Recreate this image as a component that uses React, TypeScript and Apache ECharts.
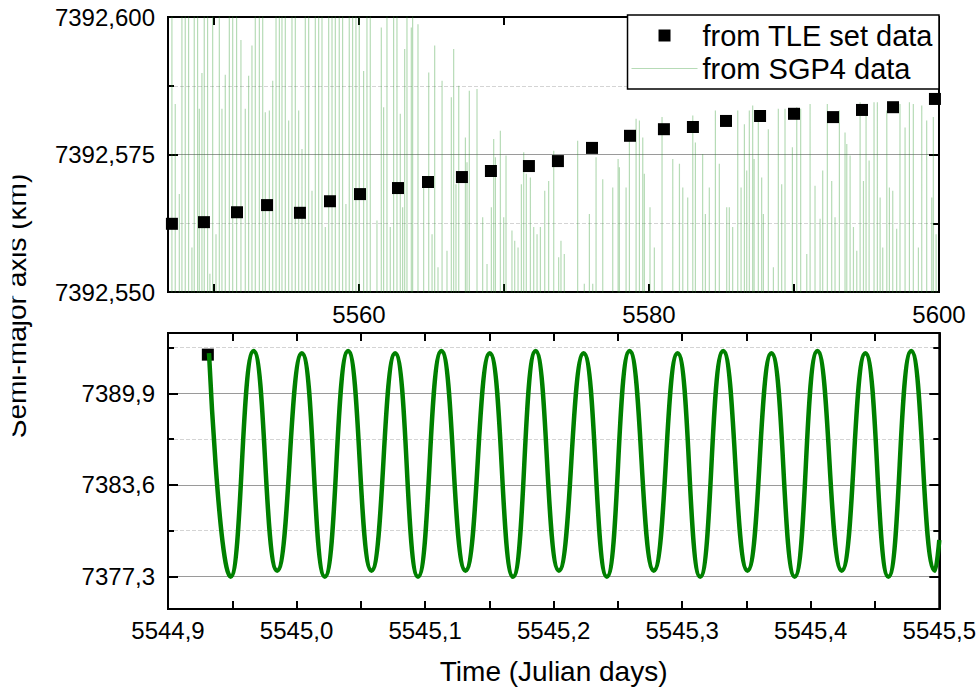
import React, { useEffect, useRef } from "react";
import * as echarts from "echarts";

// ---------- Upper panel: TLE set points (Julian day, km) ----------
const tleDays = [
  5547.1, 5549.31, 5551.59, 5553.66, 5555.93, 5558.0, 5560.07, 5562.69, 5564.76, 5567.1,
  5569.1, 5571.72, 5573.72, 5576.07, 5578.69, 5581.03, 5583.03, 5585.31, 5587.66, 5590.0,
  5592.69, 5594.69, 5596.83, 5599.72,
];
const tleKm = [
  7392.5624, 7392.5627, 7392.5645, 7392.5658, 7392.5644, 7392.5665, 7392.5678, 7392.5689,
  7392.57, 7392.5709, 7392.572, 7392.5729, 7392.5738, 7392.5762, 7392.5784, 7392.5796,
  7392.58, 7392.5811, 7392.582, 7392.5824, 7392.5818, 7392.5831, 7392.5836, 7392.5851,
];

// ---------- Upper panel: SGP4 oscillation maxima (Julian day, km) ----------
const sgpDays = [
  5547.1, 5547.33, 5547.61, 5547.79, 5548.02, 5548.25, 5548.48, 5548.64, 5548.87, 5548.99,
  5549.17, 5549.33, 5549.56, 5549.72, 5549.91, 5550.14, 5550.37, 5550.55, 5550.78, 5551.06,
  5551.29, 5551.56, 5551.86, 5552.16, 5552.39, 5552.62, 5552.85, 5553.13, 5553.36, 5553.54,
  5553.82, 5554.05, 5554.28, 5554.51, 5554.69, 5554.92, 5555.15, 5555.38, 5555.61, 5555.84,
  5556.07, 5556.3, 5556.53, 5556.76, 5556.99, 5557.22, 5557.45, 5557.68, 5557.91, 5558.14,
  5558.37, 5558.64, 5558.87, 5559.1, 5559.33, 5559.56, 5559.79, 5560.02,
  5560.32, 5560.55, 5560.78, 5561.24, 5561.54, 5561.7, 5561.93, 5562.16, 5562.39, 5562.62,
  5562.85, 5563.01, 5563.15, 5563.31, 5563.61, 5563.7, 5564.07, 5564.46, 5564.81, 5565.04,
  5565.22, 5565.45, 5565.73, 5566.07, 5566.37, 5566.53, 5566.69, 5566.88, 5567.34, 5567.45,
  5567.61, 5568.14, 5568.53, 5568.83, 5569.13, 5569.29, 5569.41, 5569.75, 5569.98, 5570.14,
  5570.55, 5570.74, 5570.97, 5571.2, 5571.36, 5571.54, 5571.82, 5572.05, 5572.28, 5572.51,
  5572.81, 5573.08, 5573.43,
  5573.77, 5573.93, 5574.16, 5575.08, 5575.54, 5575.89, 5576.12, 5576.35, 5576.81, 5577.5,
  5577.87, 5577.96, 5578.42, 5578.65, 5579.11, 5579.34, 5579.57, 5579.68, 5580.07, 5580.37,
  5580.9, 5581.64, 5582.1, 5582.33, 5582.67, 5583.02, 5583.2, 5583.7, 5583.89, 5584.16,
  5584.58, 5584.85, 5585.36, 5585.54, 5585.77, 5586.12, 5586.35, 5586.58, 5586.74, 5586.92,
  5587.15,
  5587.25, 5587.54, 5587.77, 5587.89, 5588.23, 5588.58, 5588.92, 5589.15, 5589.38, 5589.89,
  5590.19, 5590.46, 5590.88, 5591.11, 5591.45, 5591.8, 5591.98, 5592.3, 5592.6, 5592.83,
  5593.13, 5593.52, 5593.64, 5593.87, 5594.1, 5594.33, 5594.56, 5594.79, 5594.97, 5595.18,
  5595.52, 5595.75, 5595.94, 5596.12, 5596.4, 5596.58, 5596.81, 5597.08, 5597.31, 5597.66,
  5597.96, 5598.23, 5598.58, 5598.81, 5599.15, 5599.5, 5599.61, 5599.8,
];
const sgpPeakKm = [
  7392.62, 7392.5842, 7392.5678, 7392.62, 7392.62, 7392.62, 7392.5581, 7392.62, 7392.62, 7392.5833,
  7392.5898, 7392.62, 7392.62, 7392.5533, 7392.62, 7392.5605, 7392.62, 7392.5833, 7392.5895, 7392.62,
  7392.62, 7392.62, 7392.5958, 7392.5833, 7392.5893, 7392.5948, 7392.62, 7392.62, 7392.62, 7392.5827,
  7392.583, 7392.5884, 7392.62, 7392.62, 7392.62, 7392.62, 7392.5812, 7392.62, 7392.62, 7392.583,
  7392.576, 7392.62, 7392.62, 7392.5684, 7392.62, 7392.62, 7392.62, 7392.5618, 7392.62, 7392.62,
  7392.62, 7392.62, 7392.62, 7392.566, 7392.62, 7392.62, 7392.62, 7392.62,
  7392.5902, 7392.62, 7392.62, 7392.563, 7392.5981, 7392.5836, 7392.62, 7392.5618, 7392.62, 7392.62,
  7392.5824, 7392.5654, 7392.5942, 7392.62, 7392.5981, 7392.62, 7392.5987, 7392.569, 7392.5899, 7392.5605,
  7392.5948, 7392.5545, 7392.5884, 7392.5575, 7392.5854, 7392.5942, 7392.5696, 7392.5875, 7392.5781, 7392.5736,
  7392.5866, 7392.5869, 7392.5636, 7392.5551, 7392.5654, 7392.5778, 7392.5745, 7392.5793, 7392.5636, 7392.5748,
  7392.5612, 7392.5593, 7392.5581, 7392.5696, 7392.5754, 7392.5715, 7392.5708, 7392.5618, 7392.5605, 7392.5618,
  7392.5684, 7392.5702, 7392.5757,
  7392.5563, 7392.5593, 7392.5569, 7392.5775, 7392.5515, 7392.5642, 7392.5515, 7392.5745, 7392.5705, 7392.569,
  7392.5742, 7392.5727, 7392.569, 7392.579, 7392.5815, 7392.5812, 7392.5781, 7392.5715, 7392.5654, 7392.5581,
  7392.5818, 7392.5742, 7392.5733, 7392.569, 7392.5672, 7392.5821, 7392.5772, 7392.5751, 7392.5642, 7392.569,
  7392.583, 7392.5733, 7392.5654, 7392.5654, 7392.5618, 7392.583, 7392.569, 7392.5805, 7392.5721, 7392.583,
  7392.5839,
  7392.5742, 7392.5818, 7392.5708, 7392.5642, 7392.5796, 7392.5545, 7392.5833, 7392.5696, 7392.5833, 7392.5763,
  7392.5836, 7392.5833, 7392.5569, 7392.5842, 7392.5693, 7392.5633, 7392.5721, 7392.5842, 7392.5702, 7392.5636,
  7392.583, 7392.579, 7392.5769, 7392.5748, 7392.5618, 7392.5575, 7392.5845, 7392.5702, 7392.5824, 7392.5739,
  7392.5845, 7392.5845, 7392.5672, 7392.5581, 7392.583, 7392.569, 7392.5684, 7392.5615, 7392.5842, 7392.5799,
  7392.5845, 7392.5842, 7392.5581, 7392.5839, 7392.5812, 7392.5672, 7392.5818, 7392.5605,
];
// oscillation minimum (seen in the lower panel)
const SGP4_TROUGH_KM = 7377.3;

// ---------- Lower panel: zoom on first half day ----------
const zoomTleDays = [5544.931];
const zoomTleKm = [7392.56];
const zoomDays = [
  5544.9319, 5544.9487, 5544.9666, 5544.9849, 5545.0041, 5545.022, 5545.0401, 5545.0583,
  5545.0767, 5545.0945, 5545.1127, 5545.1314, 5545.1503, 5545.1684, 5545.186, 5545.2041,
  5545.2233, 5545.2414, 5545.2591, 5545.2779, 5545.2964, 5545.314, 5545.3319, 5545.3508,
  5545.3694, 5545.3875, 5545.4052, 5545.4241, 5545.4425, 5545.4604, 5545.4782, 5545.4966, 5545.5,
];
const zoomKm = [
  7392.67, 7377.27, 7392.81, 7377.69, 7392.65, 7377.27, 7392.81, 7377.69,
  7392.65, 7377.27, 7392.81, 7377.69, 7392.65, 7377.27, 7392.81, 7377.69,
  7392.65, 7377.27, 7392.81, 7377.69, 7392.65, 7377.27, 7392.81, 7377.69,
  7392.65, 7377.27, 7392.81, 7377.69, 7392.65, 7377.27, 7392.81, 7377.69, 7379.8,
];

// ---------- Axis ticks ----------
const topXTickDays = [5550, 5560, 5570, 5580, 5590, 5600];
const topXLabelDays = [5560, 5580, 5600];
const bottomYMajor = [7377.3, 7383.6, 7389.9];
const bottomYMinor = [7380.45, 7386.75, 7393.05];

const FONT = "'Liberation Sans', Arial, Helvetica, sans-serif";
const SGP_COLOR = "rgba(40,150,40,0.34)";

export default function App() {
  const ref = useRef<HTMLDivElement>(null);

  useEffect(() => {
    if (!ref.current) return;
    const chart = echarts.init(ref.current, undefined, { renderer: "svg" });

    const tle = tleDays.map((d, i) => [d, tleKm[i]]);
    const sgp: any[] = [];
    sgpDays.forEach((d, i) => {
      sgp.push([d, SGP4_TROUGH_KM]);
      sgp.push([d, sgpPeakKm[i]]);
      sgp.push(null);
    });
    const zoomLine = zoomDays.map((d, i) => [d, zoomKm[i]]);
    const zoomTle = zoomTleDays.map((d, i) => [d, zoomTleKm[i]]);

    const frame = { show: true, onZero: false, lineStyle: { color: "#000", width: 2 } };
    const tick = (len: number, extra: any = {}) => ({
      show: true,
      inside: true,
      length: len,
      lineStyle: { color: "#000", width: 2 },
      ...extra,
    });
    const lbl = { color: "#000", fontSize: 24, fontFamily: FONT };

    const topYMin = 7392.55;
    const topYMax = 7392.6;
    const botYMin = 7375.05;
    const botYMax = 7394.05;

    chart.setOption({
      animation: false,
      backgroundColor: "#fff",
      textStyle: { fontFamily: FONT },
      grid: [
        { left: 168, right: 40, top: 17, height: 275, show: true, borderColor: "#000", borderWidth: 2, backgroundColor: "transparent" },
        { left: 168, right: 39, top: 333, height: 276, show: true, borderColor: "#000", borderWidth: 2, backgroundColor: "transparent" },
      ],
      legend: {
        orient: "vertical",
        right: 40,
        top: 15,
        backgroundColor: "#fff",
        borderColor: "#000",
        borderWidth: 1.5,
        borderRadius: 0,
        padding: [6, 6, 6, 4],
        itemWidth: 66,
        itemHeight: 12,
        itemGap: 4,
        selectedMode: false,
        textStyle: { fontSize: 29, color: "#000", fontFamily: FONT },
        data: [
          { name: "from TLE set data", icon: "path://M0 0H10V10H0Z", itemStyle: { color: "#000", opacity: 1 } },
          { name: "from SGP4 data", icon: "path://M0 0H100V1.2H0Z", itemStyle: { color: SGP_COLOR } },
        ],
      },
      xAxis: [
        {
          gridIndex: 0, type: "value", position: "bottom", min: 5546.83, max: 5600,
          axisLine: frame,
          axisTick: tick(8, { customValues: topXTickDays }),
          axisLabel: { ...lbl, margin: 10, customValues: topXLabelDays, formatter: (v: number) => String(Math.round(v)) },
          splitLine: { show: false },
        },
        {
          gridIndex: 0, type: "value", position: "top", min: 5546.83, max: 5600,
          axisLine: frame,
          axisTick: tick(8, { customValues: topXTickDays }),
          axisLabel: { show: false },
          splitLine: { show: false },
        },
        {
          gridIndex: 1, type: "value", position: "bottom", min: 5544.9, max: 5545.5, interval: 0.05,
          axisLine: frame,
          axisTick: tick(8),
          axisLabel: {
            ...lbl, margin: 9, showMinLabel: true, showMaxLabel: true,
            formatter: (v: number) => {
              const k = Math.round(v * 100);
              return k % 10 === 0 ? (k / 100).toFixed(1).replace(".", ",") : "";
            },
          },
          splitLine: { show: false },
          name: "Time (Julian days)",
          nameLocation: "middle",
          nameGap: 48,
          nameTextStyle: { fontSize: 28, color: "#000", fontFamily: FONT },
        },
        {
          gridIndex: 1, type: "value", position: "top", min: 5544.9, max: 5545.5, interval: 0.05,
          axisLine: frame,
          axisTick: tick(8),
          axisLabel: { show: false },
          splitLine: { show: false },
        },
      ],
      yAxis: [
        {
          gridIndex: 0, type: "value", position: "left", min: topYMin, max: topYMax, interval: 0.025,
          axisLine: frame,
          axisTick: tick(10),
          minorTick: { show: true, splitNumber: 2, length: 6, lineStyle: { color: "#000", width: 2 } },
          axisLabel: { ...lbl, margin: 13, formatter: (v: number) => v.toFixed(3).replace(".", ",") },
          splitLine: { show: true, lineStyle: { color: "#9a9a9a", width: 1.2 } },
          minorSplitLine: { show: true, lineStyle: { color: "#d4d4d4", type: "dashed", width: 1 } },
        },
        {
          gridIndex: 0, type: "value", position: "right", min: topYMin, max: topYMax, interval: 0.025,
          axisLine: frame,
          axisTick: tick(10),
          minorTick: { show: true, splitNumber: 2, length: 6, lineStyle: { color: "#000", width: 2 } },
          axisLabel: { show: false },
          splitLine: { show: false },
        },
        {
          gridIndex: 1, type: "value", position: "left", min: botYMin, max: botYMax,
          axisLine: frame,
          axisTick: tick(10, { customValues: bottomYMajor }),
          axisLabel: { ...lbl, margin: 13, customValues: bottomYMajor, formatter: (v: number) => v.toFixed(1).replace(".", ",") },
          splitLine: { show: true, lineStyle: { color: "#9a9a9a", width: 1.2 } },
        },
        {
          gridIndex: 1, type: "value", position: "left", min: botYMin, max: botYMax,
          axisLine: { show: false },
          axisTick: tick(6, { customValues: bottomYMinor }),
          axisLabel: { show: false },
          splitLine: { show: true, lineStyle: { color: "#d4d4d4", type: "dashed", width: 1 } },
        },
        {
          gridIndex: 1, type: "value", position: "right", min: botYMin, max: botYMax,
          axisLine: frame,
          axisTick: tick(10, { customValues: bottomYMajor }),
          axisLabel: { show: false },
          splitLine: { show: false },
        },
        {
          gridIndex: 1, type: "value", position: "right", min: botYMin, max: botYMax,
          axisLine: { show: false },
          axisTick: tick(6, { customValues: bottomYMinor }),
          axisLabel: { show: false },
          splitLine: { show: false },
        },
      ],
      series: [
        {
          name: "from SGP4 data",
          type: "line",
          xAxisIndex: 0,
          yAxisIndex: 0,
          data: sgp,
          symbol: "none",
          connectNulls: false,
          clip: true,
          z: 2,
          lineStyle: { color: SGP_COLOR, width: 1.2 },
          itemStyle: { color: SGP_COLOR },
        },
        {
          name: "from TLE set data",
          type: "scatter",
          xAxisIndex: 0,
          yAxisIndex: 0,
          data: tle,
          symbol: "rect",
          symbolSize: 12,
          clip: true,
          z: 3,
          itemStyle: { color: "#000", opacity: 1 },
        },
        {
          name: "TLE (zoom)",
          type: "scatter",
          xAxisIndex: 2,
          yAxisIndex: 2,
          data: zoomTle,
          symbol: "rect",
          symbolSize: 12,
          z: 2,
          itemStyle: { color: "#000", opacity: 1 },
        },
        {
          name: "SGP4 (zoom)",
          type: "line",
          xAxisIndex: 2,
          yAxisIndex: 2,
          data: zoomLine,
          smooth: true,
          symbol: "none",
          z: 3,
          lineStyle: { color: "#008000", width: 4.5 },
          itemStyle: { color: "#008000" },
        },
      ],
      graphic: [
        {
          type: "text",
          x: 16,
          y: 306,
          rotation: Math.PI / 2,
          z: 50,
          style: {
            text: "Semi-major axis (km)",
            font: `28px ${FONT}`,
            fill: "#000",
            textAlign: "center",
            textVerticalAlign: "middle",
          },
        },
        {
          type: "rect",
          z: 60,
          shape: { x: 0, y: 150, width: 12.5, height: 320 },
          style: { fill: "#fff" },
        },
      ],
    });

    return () => chart.dispose();
  }, []);

  return (
    <div
      ref={ref}
      style={{ position: "fixed", left: 0, top: 0, width: 979, height: 693, background: "#fff" }}
    />
  );
}
